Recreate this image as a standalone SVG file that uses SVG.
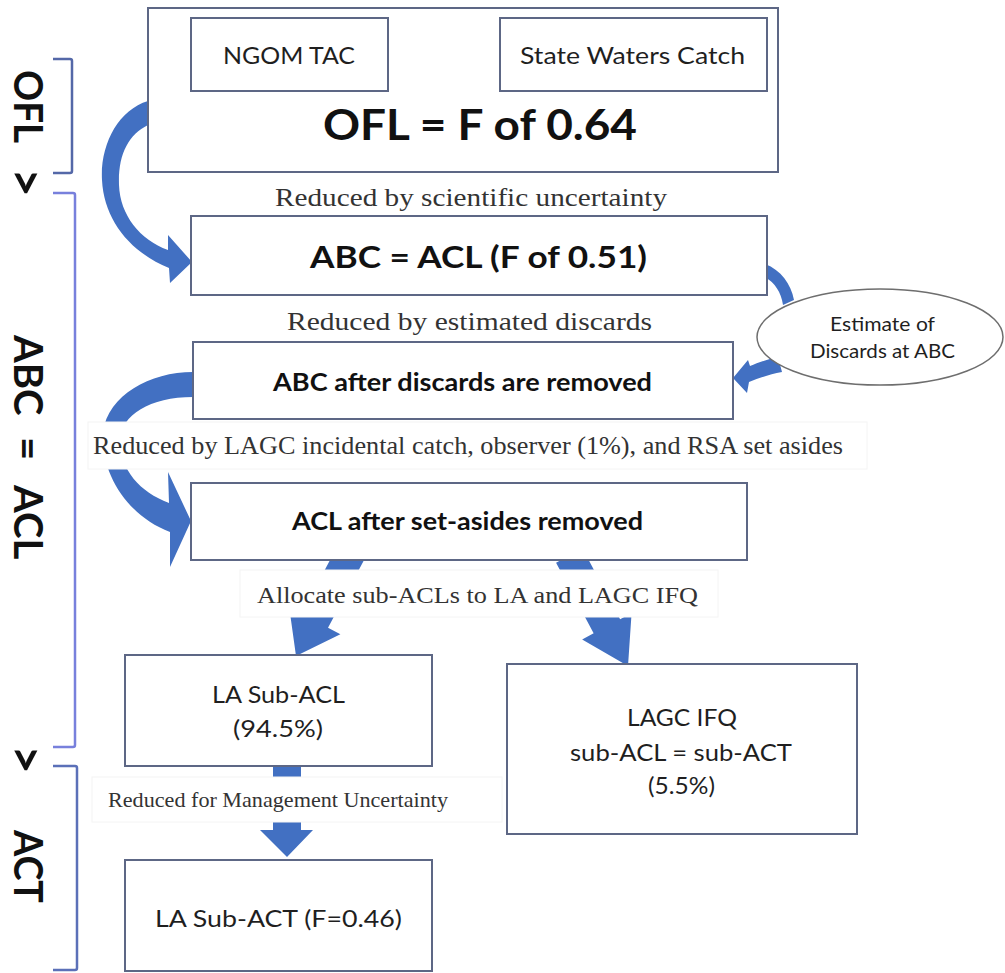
<svg xmlns="http://www.w3.org/2000/svg" width="1005" height="973" viewBox="0 0 1005 973">
<style>
.box{fill:#fff;stroke:#5d6785;stroke-width:2}
.arr{fill:#4270c2}
.lbg{fill:#fff;stroke:#f4f4f4;stroke-width:1}
.br{fill:none;stroke-width:2.5;stroke-linejoin:round}
.s{font-family:Lato,"Liberation Sans",sans-serif;fill:#1f1f1f}
.b{font-family:Lato,"Liberation Sans",sans-serif;font-weight:bold;fill:#111}
.t{font-family:"Liberation Serif",serif;fill:#333}
.side{font-family:Lato,"Liberation Sans",sans-serif;font-weight:bold;font-size:40px;fill:#111}
.gt{font-family:Lato,"Liberation Sans",sans-serif;font-weight:bold;font-size:50px;fill:#111}
</style>
<rect width="1005" height="973" fill="#fff"/>

<g id="brackets">
<path class="br" stroke="#5468a8" d="M53,59 H70 Q72,59 72,61 V171 Q72,173 70,173 H53"/>
<path class="br" stroke="#7880dc" d="M53,193 H73 Q75,193 75,195 V745 Q75,747 73,747 H53"/>
<path class="br" stroke="#5b70b8" d="M53,766 H75 Q77,766 77,768 V968 Q77,970 75,970 H53"/>
</g>

<g id="side-labels">
<text class="side" transform="translate(14,70) rotate(90)" textLength="73" lengthAdjust="spacingAndGlyphs">OFL</text>
<text class="gt" transform="translate(9,168) rotate(90)">&gt;</text>
<text class="side" transform="translate(14,0) rotate(90)"><tspan x="335">ABC</tspan> <tspan x="437">=</tspan> <tspan x="485">ACL</tspan></text>
<text class="gt" transform="translate(9,745) rotate(90)">&gt;</text>
<text class="side" transform="translate(14,830) rotate(90)" textLength="73" lengthAdjust="spacingAndGlyphs">ACT</text>
</g>

<g id="connectors">
<path class="arr" d="M148,101 C118,110 100,145 102,180 C104,220 130,252 169,268 L170,283 L192,262 L168,235 L168,250 C140,240 120,215 119,185 C118,155 128,135 148,125 Z"/>
<path class="arr" d="M765,264 C781,270 791,284 794,300 L783,305 C781,292 775,283 765,277 Z"/>
<path class="arr" d="M778,357 C768,359 758,363 750,366 L748,360 L733,378 L747,393 L749,382 C760,378 770,374 782,372 Z"/>
<path class="arr" d="M193,372 C150,372 108,395 103,432 C100,470 125,515 170,532 L170,567 L191,521 L168,472 L169,503 C140,492 120,470 120,440 C121,415 150,397 193,397 Z"/>
<polygon class="arr" transform="translate(296,656) rotate(28)" points="-15,-125 15,-125 15,-40 29,-40 0,0 -29,-40 -15,-40"/>
<polygon class="arr" transform="translate(628,666) rotate(-28)" points="-15,-125 15,-125 15,-45 28,-45 0,0 -28,-45 -15,-45"/>
<polygon class="arr" points="273,760 301,760 301,830 313,830 287,857 260,830 273,830"/>
</g>

<g id="label-backgrounds">
<rect class="lbg" x="88" y="422" width="779" height="47"/>
<rect class="lbg" x="240" y="570" width="478" height="47"/>
<rect class="lbg" x="92" y="777" width="410" height="45"/>
</g>

<g id="ofl">
<rect class="box" x="148" y="8" width="630" height="164"/>
<text class="b" x="323" y="140" font-size="42" textLength="314" lengthAdjust="spacingAndGlyphs">OFL = F of 0.64</text>
</g>
<g id="ngom-tac">
<rect class="box" x="191" y="18" width="197" height="73"/>
<text class="s" x="223" y="64" font-size="24" textLength="132" lengthAdjust="spacingAndGlyphs">NGOM TAC</text>
</g>
<g id="state-waters">
<rect class="box" x="500" y="18" width="267" height="73"/>
<text class="s" x="520" y="64" font-size="24" textLength="225" lengthAdjust="spacingAndGlyphs">State Waters Catch</text>
</g>

<g id="abc-acl">
<rect class="box" x="191" y="216" width="576" height="79"/>
<text class="b" x="310" y="268" font-size="30" textLength="337" lengthAdjust="spacingAndGlyphs">ABC = ACL (F of 0.51)</text>
</g>

<g id="discards-estimate">
<ellipse cx="880" cy="337" rx="123" ry="48" fill="#fff" stroke="#6e6e6e" stroke-width="1.5"/>
<text class="s" x="830" y="331" font-size="20" textLength="105" lengthAdjust="spacingAndGlyphs">Estimate of</text>
<text class="s" x="810" y="358" font-size="20" textLength="145" lengthAdjust="spacingAndGlyphs">Discards at ABC</text>
</g>

<g id="abc-after-discards">
<rect class="box" x="193" y="342" width="540" height="77"/>
<text class="b" x="273" y="391" font-size="24" textLength="379" lengthAdjust="spacingAndGlyphs">ABC after discards are removed</text>
</g>

<g id="acl-after-setasides">
<rect class="box" x="191" y="483" width="556" height="77"/>
<text class="b" x="292" y="530" font-size="24" textLength="351" lengthAdjust="spacingAndGlyphs">ACL after set-asides removed</text>
</g>

<g id="la-sub-acl">
<rect class="box" x="125" y="655" width="307" height="111"/>
<text class="s" x="212" y="703" font-size="24" textLength="133" lengthAdjust="spacingAndGlyphs">LA Sub-ACL</text>
<text class="s" x="233" y="737" font-size="24" textLength="90" lengthAdjust="spacingAndGlyphs">(94.5%)</text>
</g>

<g id="lagc-ifq">
<rect class="box" x="507" y="664" width="350" height="170"/>
<text class="s" x="627" y="726" font-size="24" textLength="110" lengthAdjust="spacingAndGlyphs">LAGC IFQ</text>
<text class="s" x="570" y="761" font-size="24" textLength="222" lengthAdjust="spacingAndGlyphs">sub-ACL = sub-ACT</text>
<text class="s" x="648" y="794" font-size="24" textLength="67" lengthAdjust="spacingAndGlyphs">(5.5%)</text>
</g>

<g id="la-sub-act">
<rect class="box" x="125" y="860" width="307" height="111"/>
<text class="s" x="155" y="927" font-size="24" textLength="247" lengthAdjust="spacingAndGlyphs">LA Sub-ACT (F=0.46)</text>
</g>

<g id="labels">
<text class="t" x="275" y="206" font-size="25" textLength="392" lengthAdjust="spacingAndGlyphs">Reduced by scientific uncertainty</text>
<text class="t" x="287" y="330" font-size="25" textLength="365" lengthAdjust="spacingAndGlyphs">Reduced by estimated discards</text>
<text class="t" x="93" y="454" font-size="25" textLength="750" lengthAdjust="spacingAndGlyphs">Reduced by LAGC incidental catch, observer (1%), and RSA set asides</text>
<text class="t" x="257" y="603" font-size="24" textLength="441" lengthAdjust="spacingAndGlyphs">Allocate sub-ACLs to LA and LAGC IFQ</text>
<text class="t" x="108" y="807" font-size="22" textLength="340" lengthAdjust="spacingAndGlyphs">Reduced for Management Uncertainty</text>
</g>
</svg>
